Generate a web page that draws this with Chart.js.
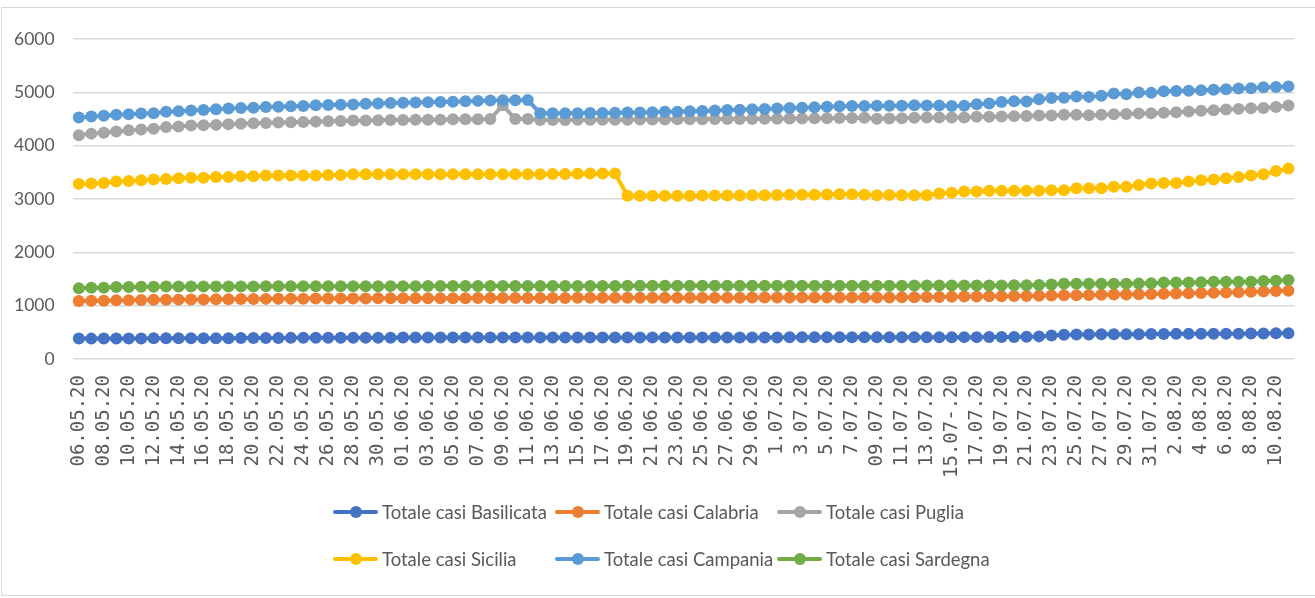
<!DOCTYPE html>
<html lang="it">
<head>
    <meta charset="UTF-8">
    <title>Totale casi</title>
    <script src="https://cdn.jsdelivr.net/npm/chart.js"></script>
    <style>
        body {
            margin: 0;
            background: #fff;
            overflow: hidden;
        }
        #frame {
            position: absolute;
            left: 1px;
            top: 7px;
            width: 1320px;
            height: 589px;
            border: 1px solid #d9d9d9;
            box-sizing: border-box;
        }
        #chart {
            position: absolute;
            left: 0;
            top: 0;
        }
        #legend {
            position: absolute;
            left: 333px;
            top: 488px;
            display: grid;
            grid-template-columns: 222px 222px 222px;
            grid-auto-rows: 47px;
            font-family: Lato, sans-serif;
            font-size: 18.5px;
            color: #595959;
        }
        .item {
            display: flex;
            align-items: center;
            white-space: nowrap;
        }
        .key {
            position: relative;
            display: inline-block;
            width: 45px;
            height: 12px;
            margin-right: 4px;
        }
        .key .line {
            position: absolute;
            left: 0;
            right: 0;
            top: 4px;
            height: 4px;
            border-radius: 2px;
        }
        .key .dot {
            position: absolute;
            left: 17px;
            top: 0;
            width: 12px;
            height: 12px;
            border-radius: 50%;
        }
    </style>
</head>
<body>
    <div id="frame"></div>
    <canvas id="chart" width="1315" height="598"></canvas>
    <div id="legend"></div>

    <script>
        // one entry per day, only the even ones are printed on the axis
        const dates = [
            '06.05.20', '07.05.20', '08.05.20', '09.05.20', '10.05.20', '11.05.20', '12.05.20', '13.05.20', '14.05.20', '15.05.20',
            '16.05.20', '17.05.20', '18.05.20', '19.05.20', '20.05.20', '21.05.20', '22.05.20', '23.05.20', '24.05.20', '25.05.20',
            '26.05.20', '27.05.20', '28.05.20', '29.05.20', '30.05.20', '31.05.20', '01.06.20', '02.06.20', '03.06.20', '04.06.20',
            '05.06.20', '06.06.20', '07.06.20', '08.06.20', '09.06.20', '10.06.20', '11.06.20', '12.06.20', '13.06.20', '14.06.20',
            '15.06.20', '16.06.20', '17.06.20', '18.06.20', '19.06.20', '20.06.20', '21.06.20', '22.06.20', '23.06.20', '24.06.20',
            '25.06.20', '26.06.20', '27.06.20', '28.06.20', '29.06.20', '30.06.20', '1.07.20', '2.07.20', '3.07.20', '4.07.20',
            '5.07.20', '6.07.20', '7.07.20', '08.07.20', '09.07.20', '10.07.20', '11.07.20', '12.07.20', '13.07.20', '14.07.20',
            '15.07-.20', '16.07.20', '17.07.20', '18.07.20', '19.07.20', '20.07.20', '21.07.20', '22.07.20', '23.07.20', '24.07.20',
            '25.07.20', '26.07.20', '27.07.20', '28.07.20', '29.07.20', '30.07.20', '31.07.20', '1.08.20', '2.08.20', '3.08.20',
            '4.08.20', '5.08.20', '6.08.20', '7.08.20', '8.08.20', '9.08.20', '10.08.20', '11.08.20'
        ];

        const basilicata = [
            385, 383, 384, 385, 386, 387, 388, 389, 390, 390,
            391, 391, 392, 393, 394, 395, 396, 397, 398, 399,
            400, 400, 400, 401, 401, 401, 402, 402, 402, 402,
            402, 403, 403, 403, 403, 403, 403, 404, 404, 404,
            404, 404, 404, 404, 404, 404, 405, 405, 405, 405,
            405, 405, 406, 406, 406, 406, 406, 407, 407, 407,
            407, 408, 408, 408, 408, 409, 409, 409, 410, 410,
            410, 411, 411, 412, 413, 415, 418, 425, 440, 455,
            460, 462, 463, 464, 465, 466, 468, 470, 472, 472,
            473, 474, 475, 476, 478, 480, 482, 485
        ];

        const calabria = [
            1088, 1092, 1095, 1100, 1104, 1108, 1110, 1112, 1114, 1116,
            1118, 1120, 1122, 1124, 1126, 1128, 1130, 1131, 1132, 1133,
            1134, 1135, 1136, 1137, 1138, 1139, 1140, 1140, 1141, 1141,
            1142, 1142, 1143, 1143, 1144, 1144, 1145, 1145, 1146, 1146,
            1147, 1147, 1148, 1148, 1148, 1149, 1149, 1149, 1150, 1150,
            1150, 1151, 1151, 1151, 1152, 1152, 1152, 1153, 1153, 1153,
            1154, 1154, 1155, 1155, 1155, 1156, 1158, 1160, 1162, 1165,
            1168, 1172, 1174, 1175, 1176, 1180, 1184, 1186, 1190, 1195,
            1198, 1200, 1205, 1210, 1212, 1215, 1220, 1224, 1228, 1234,
            1238, 1242, 1248, 1254, 1260, 1268, 1275, 1282
        ];

        const puglia = [
            4195, 4226, 4244, 4268, 4287, 4305, 4317, 4348, 4360, 4378,
            4384, 4390, 4402, 4409, 4421, 4427, 4433, 4439, 4445, 4451,
            4457, 4463, 4470, 4470, 4476, 4482, 4482, 4488, 4488, 4488,
            4494, 4494, 4494, 4500, 4760, 4500, 4500, 4480, 4480, 4482,
            4484, 4485, 4486, 4488, 4488, 4490, 4490, 4492, 4494, 4495,
            4496, 4498, 4500, 4500, 4502, 4504, 4506, 4508, 4510, 4512,
            4515, 4518, 4520, 4525, 4505, 4510, 4516, 4525, 4528, 4529,
            4529, 4530, 4541, 4541, 4545, 4554, 4556, 4566, 4568, 4579,
            4580, 4570, 4580, 4591, 4595, 4604, 4606, 4616, 4628, 4641,
            4653, 4666, 4678, 4690, 4700, 4705, 4727, 4752
        ];

        const sicilia = [
            3284, 3290, 3302, 3327, 3339, 3352, 3364, 3376, 3389, 3401,
            3401, 3414, 3414, 3426, 3426, 3439, 3439, 3439, 3439, 3439,
            3451, 3451, 3463, 3463, 3463, 3463, 3463, 3463, 3463, 3463,
            3463, 3463, 3463, 3463, 3463, 3465, 3465, 3465, 3468, 3470,
            3475, 3478, 3480, 3480, 3061, 3061, 3061, 3061, 3061, 3061,
            3065, 3065, 3067, 3067, 3070, 3072, 3075, 3078, 3080, 3082,
            3085, 3088, 3090, 3080, 3072, 3075, 3070, 3070, 3072, 3104,
            3116, 3141, 3141, 3154, 3154, 3154, 3154, 3154, 3166, 3166,
            3203, 3203, 3203, 3228, 3228, 3265, 3290, 3302, 3302, 3327,
            3352, 3364, 3389, 3414, 3439, 3463, 3525, 3570
        ];

        const campania = [
            4530, 4549, 4561, 4579, 4591, 4604, 4610, 4634, 4646, 4659,
            4671, 4683, 4695, 4707, 4713, 4726, 4732, 4738, 4744, 4756,
            4762, 4768, 4774, 4787, 4793, 4799, 4805, 4811, 4815, 4820,
            4825, 4835, 4840, 4845, 4850, 4850, 4855, 4610, 4610, 4610,
            4610, 4612, 4615, 4618, 4620, 4622, 4625, 4634, 4638, 4646,
            4650, 4659, 4671, 4675, 4683, 4688, 4695, 4707, 4710, 4720,
            4732, 4740, 4744, 4745, 4750, 4748, 4748, 4760, 4752, 4752,
            4745, 4748, 4777, 4790, 4820, 4835, 4830, 4870, 4895, 4900,
            4920, 4915, 4935, 4980, 4965, 4995, 4990, 5020, 5025, 5030,
            5040, 5050, 5060, 5070, 5075, 5095, 5100, 5110
        ];

        const sardegna = [
            1325, 1335, 1338, 1350, 1352, 1355, 1356, 1358, 1358, 1360,
            1360, 1360, 1362, 1362, 1362, 1363, 1363, 1364, 1364, 1365,
            1365, 1365, 1366, 1366, 1366, 1367, 1367, 1367, 1368, 1368,
            1368, 1368, 1369, 1369, 1370, 1370, 1370, 1370, 1370, 1370,
            1371, 1371, 1371, 1371, 1372, 1372, 1372, 1372, 1372, 1373,
            1373, 1373, 1373, 1374, 1374, 1374, 1374, 1374, 1375, 1375,
            1375, 1375, 1376, 1376, 1376, 1376, 1376, 1377, 1377, 1377,
            1378, 1378, 1378, 1379, 1379, 1382, 1384, 1390, 1398, 1410,
            1410, 1411, 1412, 1412, 1413, 1414, 1422, 1435, 1436, 1437,
            1438, 1447, 1447, 1448, 1449, 1462, 1470, 1480
        ];

        const seriesNames = [
            'Totale casi Basilicata', 'Totale casi Calabria', 'Totale casi Puglia',
            'Totale casi Sicilia', 'Totale casi Campania', 'Totale casi Sardegna'
        ];
        const seriesData = [basilicata, calabria, puglia, sicilia, campania, sardegna];
        const seriesColors = ['#4472C4', '#ED7D31', '#A5A5A5', '#FFC000', '#5B9BD5', '#70AD47'];

        const yTicks = { min: 0, max: 6000, step: 1000 };

        const labelColor = '#595959';

        // excel draws the last series on top, chart.js the first one
        const datasets = seriesNames.map((name, i) => ({
            label: name,
            data: seriesData[i],
            borderColor: seriesColors[i],
            backgroundColor: seriesColors[i],
            borderWidth: 4,
            pointRadius: 6,
            pointBorderWidth: 0,
            pointBackgroundColor: seriesColors[i],
            tension: 0,
            order: seriesNames.length - i
        }));

        const chart = new Chart(document.getElementById('chart'), {
            type: 'line',
            data: { labels: dates, datasets: datasets },
            options: {
                responsive: false,
                animation: false,
                layout: { padding: { left: -4, right: 16, top: 39, bottom: 104 } },
                plugins: {
                    legend: { display: false },
                    tooltip: { enabled: false }
                },
                scales: {
                    x: {
                        offset: true,
                        grid: { display: false, drawTicks: false },
                        border: { display: false },
                        ticks: {
                            autoSkip: false,
                            minRotation: 90,
                            maxRotation: 90,
                            padding: 16,
                            color: labelColor,
                            font: { family: 'DejaVu Sans Mono', size: 19 },
                            callback: (value, index) => index % 2 === 0 ? dates[index] : null
                        }
                    },
                    y: {
                        min: yTicks.min,
                        max: yTicks.max,
                        border: { display: false },
                        grid: { color: '#d9d9d9', lineWidth: 1.5, drawTicks: false },
                        ticks: {
                            stepSize: yTicks.step,
                            padding: 18,
                            color: labelColor,
                            font: { family: 'Lato', size: 17.5 },
                            callback: value => String(value)
                        }
                    }
                }
            }
        });

        // legend in three equal columns, like the spreadsheet one
        const legend = document.getElementById('legend');
        chart.data.datasets.forEach(ds => {
            const item = document.createElement('div');
            item.className = 'item';
            item.innerHTML =
                '<span class="key"><span class="line" style="background:' + ds.borderColor + '"></span>' +
                '<span class="dot" style="background:' + ds.borderColor + '"></span></span>' +
                '<span>' + ds.label + '</span>';
            legend.appendChild(item);
        });
    </script>
</body>
</html>
